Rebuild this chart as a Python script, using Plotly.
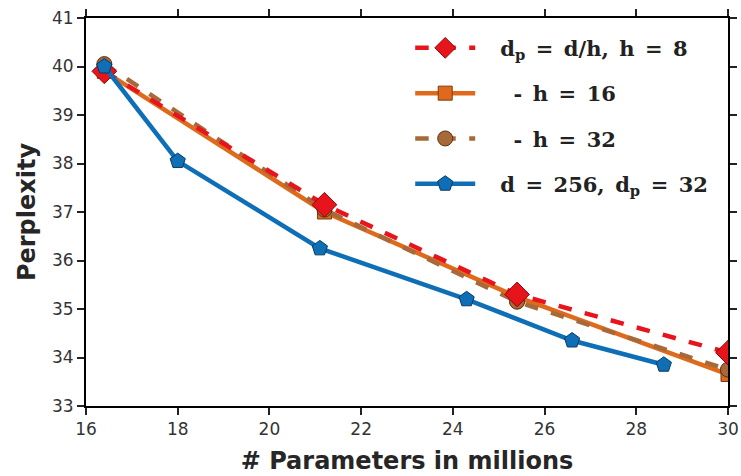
import plotly.graph_objects as go

# Data
x_h8 = [16.4, 21.2, 25.4, 30.0]
y_h8 = [39.9, 37.15, 35.3, 34.1]
x_h16 = [16.4, 21.2, 25.4, 30.0]
y_h16 = [39.9, 37.0, 35.25, 33.65]
x_h32 = [16.4, 21.2, 25.4, 30.0]
y_h32 = [40.05, 37.05, 35.15, 33.75]
x_d256 = [16.4, 18.0, 21.1, 24.3, 26.6, 28.6]
y_d256 = [40.0, 38.05, 36.25, 35.2, 34.35, 33.85]

S = "\u2002"  # en space (math-like spacing)
P = "\u00a0\u00a0\u00a0"
names = [
    f"{P}<b>d<sub>p</sub>{S}={S}d/h,{S}h{S}={S}8</b>",
    f"{P}\u00a0\u00a0<b>-{S}h{S}={S}16</b>",
    f"{P}\u00a0\u00a0<b>-{S}h{S}={S}32</b>",
    f"{P}<b>d{S}={S}256,{S}d<sub>p</sub>{S}={S}32</b>",
]

fig = go.Figure()
fig.add_trace(go.Scatter(
    x=x_h16, y=y_h16, mode="lines+markers", name=names[1],
    line=dict(color="#df6a1c", width=4.5),
    marker=dict(symbol="square", size=14, color="#df6a1c", line=dict(color="#7a3a10", width=1)),
    legendrank=2, legendgroup="b",
))
fig.add_trace(go.Scatter(
    x=x_h32, y=y_h32, mode="lines+markers", name=names[2],
    line=dict(color="#a8693a", width=4.5, dash="dash"),
    marker=dict(symbol="circle", size=15, color="#a8693a", line=dict(color="#5a3010", width=1)),
    legendrank=3, legendgroup="c",
))
fig.add_trace(go.Scatter(
    x=x_h8, y=y_h8, mode="lines+markers", name=names[0],
    line=dict(color="#e8141c", width=4.5, dash="dash"),
    marker=dict(symbol="diamond", size=19, color="#e8141c", line=dict(color="#8a0a0a", width=1)),
    legendrank=1, legendgroup="a",
))
fig.add_trace(go.Scatter(
    x=x_d256, y=y_d256, mode="lines+markers", name=names[3],
    line=dict(color="#0f6fb6", width=4.5),
    marker=dict(symbol="pentagon", size=16, color="#0f6fb6", line=dict(color="#0a3a60", width=1)),
    legendrank=4, legendgroup="d",
))

axis_common = dict(
    showline=True, linecolor="black", linewidth=2, mirror="allticks",
    ticks="outside", ticklen=7, tickwidth=2, tickcolor="#222",
    showgrid=False, zeroline=False, automargin=False,
    tickfont=dict(family="DejaVu Sans", size=17, color="#333"),
)

fig.update_xaxes(range=[16, 30], dtick=2, **axis_common,
                 title=dict(text="<b># Parameters in millions</b>",
                            font=dict(family="DejaVu Sans", size=24, color="#262626"), standoff=14))
fig.update_yaxes(range=[33, 41], dtick=1, **axis_common,
                 title=dict(text="<b>Perplexity</b>",
                            font=dict(family="DejaVu Sans", size=24, color="#262626"), standoff=10))

fig.update_layout(
    width=741, height=476,
    margin=dict(l=86, r=13, t=18, b=70),
    plot_bgcolor="white", paper_bgcolor="white",
    legend=dict(
        x=0.505, y=0.975, xanchor="left", yanchor="top",
        font=dict(family="DejaVu Serif", size=21, color="#222"),
        bgcolor="rgba(255,255,255,0.8)", itemwidth=60,
        traceorder="grouped", tracegroupgap=15,
    ),
)

fig.write_html("out.html")
